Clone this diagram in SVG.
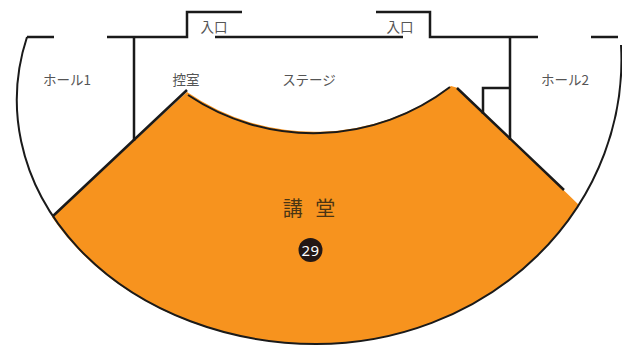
<svg xmlns="http://www.w3.org/2000/svg" width="622" height="345" viewBox="0 0 622 345">
<style>
.w{fill:none;stroke:#1a1a1a;stroke-width:2.5}
.o{fill:none;stroke:#1a1a1a;stroke-width:2}
text{font-family:"Noto Sans CJK JP","Noto Sans",sans-serif;text-anchor:middle}
.l{font-size:13.5px;fill:#555555}
</style>
<rect width="622" height="345" fill="#ffffff"/>
<g id="hall">
<path d="M52,217 L187,92 A225 225 0 0 0 451,86 L458,88 L579,205 A305.5 284 0 0 1 316,344 A300 244 0 0 1 52,217 Z" fill="#f7931e"/>
</g>
<g id="connectors">
<path class="o" d="M27,37 A300 244 0 0 0 316,344 A305.5 284 0 0 0 621,45"/>
<path class="w" d="M27,37H54M107,37H187V12H242M215,37H403M376,12H430V37H538M591,37H618"/>
<path class="w" d="M134,37V141M510,37V140M483,114V88H510"/>
<path class="w" d="M53,216L187,90M457,88L564,190"/>
<path class="o" d="M188,95A225 225 0 0 0 450,87"/>
</g>
<g id="labels">
<text class="l" x="214" y="32">入口</text>
<text class="l" x="400" y="32">入口</text>
<text class="l" x="67" y="85">ホール1</text>
<text class="l" x="186" y="85">控室</text>
<text class="l" x="309" y="85">ステージ</text>
<text class="l" x="565" y="85">ホール2</text>
<text x="309.500" y="216" font-size="20" fill="#4a3514" word-spacing="6" letter-spacing="1">講 堂</text>
</g>
<g id="n29">
<circle cx="310.500" cy="250" r="12" fill="#231815"/>
<text x="310.500" y="255.500" font-size="15" fill="#ffffff" letter-spacing="0.500" style="font-family:'Noto Sans',sans-serif">29</text>
</g>
</svg>
